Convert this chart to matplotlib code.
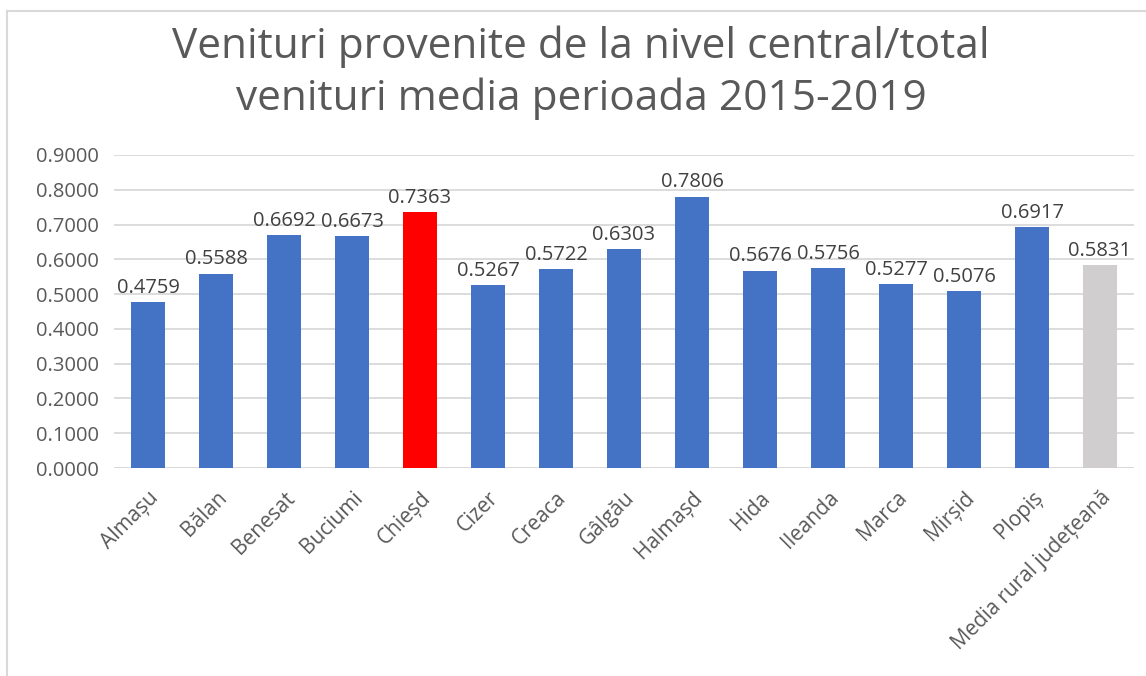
import matplotlib
matplotlib.use("Agg")
import matplotlib.pyplot as plt
from matplotlib.lines import Line2D

categories = ["Almașu", "Bălan", "Benesat", "Buciumi", "Chieșd", "Cizer", "Creaca",
              "Gâlgău", "Halmașd", "Hida", "Ileanda", "Marca", "Mirșid", "Plopiș",
              "Media rural județeană"]
values = [0.4759, 0.5588, 0.6692, 0.6673, 0.7363, 0.5267, 0.5722,
          0.6303, 0.7806, 0.5676, 0.5756, 0.5277, 0.5076, 0.6917, 0.5831]
yticks = [0.0, 0.1, 0.2, 0.3, 0.4, 0.5, 0.6, 0.7, 0.8, 0.9]
title = "Venituri provenite de la nivel central/total\nvenituri media perioada 2015-2019"

BLUE = "#4472C4"
RED = "#FF0000"
GRAY = "#D0CECE"
colors = []
for c in categories:
    if c == "Chieșd":
        colors.append(RED)
    elif c.startswith("Media"):
        colors.append(GRAY)
    else:
        colors.append(BLUE)

plt.rcParams['font.family'] = ['Open Sans', 'DejaVu Sans']
TXT = "#595959"

fig = plt.figure(figsize=(11.46, 6.76), dpi=100)
ax = fig.add_axes([114/1146, 1-468/676, (1134-114)/1146, (468-155)/676])

x = list(range(len(categories)))
ax.bar(x, values, width=0.5, color=colors, zorder=3)
ax.set_xlim(-0.5, len(categories)-0.5)
ax.set_ylim(0, 0.9)
ax.set_yticks(yticks)
ax.set_yticklabels([f"{v:.4f}" for v in yticks], fontsize=14.5, color=TXT)
ax.yaxis.grid(True, color="#D9D9D9", linewidth=1.3, zorder=0)
ax.tick_params(axis='both', length=0)
ax.tick_params(axis='y', pad=11)
for s in ax.spines.values():
    s.set_visible(False)
ax.axhline(0, color="#D9D9D9", linewidth=1.3, zorder=2)

ax.set_xticks(x)
ax.set_xticklabels(categories, rotation=45, ha='right', rotation_mode='anchor',
                   fontsize=15, color=TXT)
ax.tick_params(axis='x', pad=14)

for xi, v in zip(x, values):
    ax.annotate(f"{v:.4f}", (xi, v), xytext=(0, 3), textcoords='offset points',
                ha='center', va='bottom', fontsize=14.5, color="#404040")

fig.text(581/1146, 1-73/676, title, ha='center', va='center', fontsize=30.5, color=TXT,
         linespacing=1.3)

# chart border (top and left visible)
fig.add_artist(Line2D([6.5/1146, 1], [1-10.5/676, 1-10.5/676], transform=fig.transFigure,
                      color="#D9D9D9", linewidth=1.5))
fig.add_artist(Line2D([6.5/1146, 6.5/1146], [0, 1-10.5/676], transform=fig.transFigure,
                      color="#D9D9D9", linewidth=1.5))

fig.savefig("out.png", dpi=100, facecolor="white")
